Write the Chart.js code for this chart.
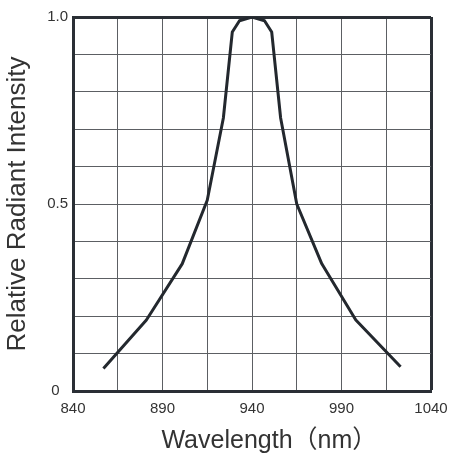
<!DOCTYPE html>
<html>
<head>
<meta charset="utf-8">
<script src="https://cdn.jsdelivr.net/npm/chart.js@4/dist/chart.umd.min.js"></script>
<style>
  html, body { margin: 0; padding: 0; background: #fff; }
  #wrap { width: 452px; height: 457px; }
</style>
</head>
<body>
<div id="wrap"><canvas id="specChart" width="452" height="457"></canvas></div>
<script>
// spectrum
const wavelengths = [857, 881, 901, 915, 924, 929, 933, 940, 947, 951, 956, 965, 979, 998, 1023];
const intensity = [0.06, 0.19, 0.34, 0.51, 0.73, 0.96, 0.99, 1.0, 0.99, 0.96, 0.73, 0.5, 0.34, 0.19, 0.065];
const xTickLabels = [840, 890, 940, 990, 1040];
const yTickLabels = ['0', '0.5', '1.0'];

const FONT = '"Liberation Sans", Arial, "Noto Sans CJK SC", sans-serif';
const DARK = '#2a2f35';
const GRID = '#5c5f63';

const ctx = document.getElementById('specChart');
new Chart(ctx, {
  type: 'line',
  data: {
    datasets: [{
      data: wavelengths.map((w, i) => ({ x: w, y: intensity[i] })),
      borderColor: '#23282e',
      borderWidth: 3,
      pointRadius: 0,
      tension: 0,
      fill: false,
      borderJoinStyle: 'round',
    }]
  },
  options: {
    responsive: false,
    animation: false,
    devicePixelRatio: 1,
    layout: { padding: { top: 17, right: 21, left: 0, bottom: 0 } },
    plugins: { legend: { display: false }, tooltip: { enabled: false } },
    scales: {
      x: {
        type: 'linear',
        min: 840,
        max: 1040,
        afterFit: s => { s.height = 66; s.paddingLeft = 0; s.paddingRight = 0; },
        afterBuildTicks: s => {
          const t = [];
          for (let v = 840; v <= 1040; v += 25) t.push({ value: v });
          s.ticks = t;
        },
        ticks: {
          autoSkip: false,
          maxRotation: 0,
          padding: 9,
          color: '#333',
          font: { family: FONT, size: 15 },
          callback: v => xTickLabels.includes(v) ? String(v) : '',
        },
        grid: {
          drawTicks: false,
          color: c => c.tick && c.tick.value === 1040 ? DARK : GRID,
          lineWidth: c => c.tick && c.tick.value === 1040 ? 3 : 1,
        },
        border: { display: true, color: DARK, width: 3 },
        title: {
          display: true,
          // leading spaces push the title right like in the original
          text: '     Wavelength（nm）',
          color: '#333',
          font: { family: FONT, size: 25 },
          padding: { top: 0, bottom: 1 },
        },
      },
      y: {
        min: 0,
        max: 1,
        afterFit: s => { s.width = 73; s.paddingTop = 0; s.paddingBottom = 0; },
        afterBuildTicks: s => {
          const t = [];
          for (let i = 0; i <= 10; i++) t.push({ value: i / 10 });
          s.ticks = t;
        },
        ticks: {
          autoSkip: false,
          padding: 5,
          color: '#333',
          font: { family: FONT, size: 15 },
          callback: v => {
            if (v === 0) return yTickLabels[0] + '  ';
            if (v === 0.5) return yTickLabels[1];
            if (v === 1) return yTickLabels[2];
            return '';
          },
        },
        grid: {
          drawTicks: false,
          color: c => c.tick && c.tick.value === 1 ? DARK : GRID,
          lineWidth: c => c.tick && c.tick.value === 1 ? 3 : 1,
        },
        border: { display: true, color: DARK, width: 3 },
        title: {
          display: true,
          text: 'Relative Radiant Intensity',
          color: '#333',
          font: { family: FONT, size: 26 },
          padding: { top: 2, bottom: 0 },
        },
      },
    },
  },
});
</script>
</body>
</html>
